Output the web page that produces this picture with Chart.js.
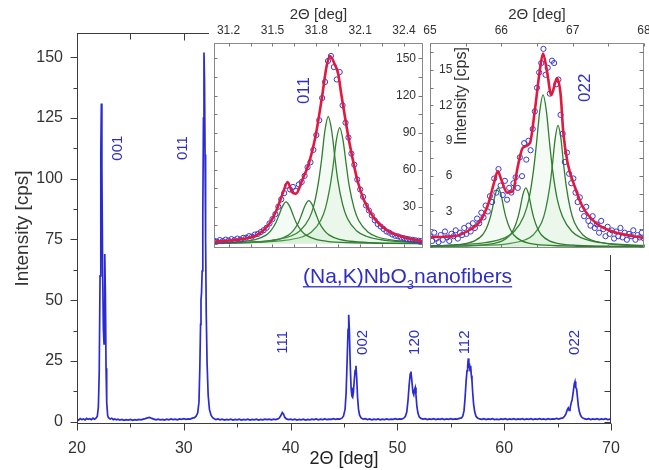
<!DOCTYPE html>
<html><head><meta charset="utf-8">
<script src="https://cdn.jsdelivr.net/npm/chart.js@4.4.1/dist/chart.umd.min.js"></script>
<style>
html,body{margin:0;padding:0;background:#fff;}
#wrap{position:relative;width:649px;height:470px;overflow:hidden;background:#fff;}
canvas{position:absolute;}
#main{left:0;top:0;}
#in1{left:209px;top:0;}
#in2{left:416px;top:0;}
</style></head><body>
<div id="wrap">
<canvas id="main" width="649" height="470"></canvas>
<canvas id="in1" width="219" height="255"></canvas>
<canvas id="in2" width="233" height="255"></canvas>
</div>
<script>
// ---------------- DATA ----------------
// Main XRD scan: [2theta (deg), intensity (cps)]
const mainScan = [
[20.0,1.0],[20.15,0.6],[20.3,1.2],[20.45,0.8],[20.6,1.1],[20.75,0.7],[20.9,1.3],[21.05,0.9],[21.2,1.2],[21.35,0.8],[21.5,1.4],[21.65,1.0],[21.8,1.5],[21.9,2.2],
[22.0,6],[22.08,20],[22.16,60],[22.23,110],[22.28,131],[22.33,105],[22.4,62],[22.47,38],[22.53,32],[22.58,52],[22.62,69],[22.66,52],[22.72,22],[22.78,8],[22.87,2.5],[22.95,1.6],
[23.1,1.1],[23.25,1.4],[23.4,0.8],[23.55,1.1],[23.7,0.7],[23.85,1.0],[24.0,0.6],[24.2,0.9],[24.4,0.5],[24.6,0.8],[24.8,0.6],[25.0,0.9],[25.2,0.5],[25.4,0.8],[25.6,0.6],[25.8,0.9],
[26.0,0.7],[26.2,1.0],[26.4,1.2],[26.6,1.5],[26.8,1.7],[27.0,1.3],[27.2,1.0],[27.4,0.7],[27.6,1.0],[27.8,0.7],[28.0,0.9],[28.2,0.6],[28.4,1.0],[28.6,0.7],[28.8,1.1],[29.0,0.8],
[29.2,1.0],[29.4,0.7],[29.6,1.1],[29.8,0.9],[30.0,1.2],[30.2,0.9],[30.4,1.1],[30.6,1.0],[30.8,1.4],[31.0,1.6],[31.15,2.2],[31.3,3.5],[31.42,8],[31.5,22],[31.57,40],[31.61,50],
[31.66,53],[31.72,62],[31.78,85],[31.84,125],[31.89,152],[31.94,140],[31.99,110],[32.04,75],[32.1,45],[32.18,24],[32.28,11],[32.4,5],[32.55,2.6],[32.7,1.6],[32.85,1.2],[33.0,0.8],
[33.2,1.1],[33.4,0.7],[33.6,1.0],[33.8,0.6],[34.0,0.9],[34.2,0.7],[34.4,1.0],[34.6,0.6],[34.8,0.9],[35.0,0.7],[35.2,1.0],[35.4,0.6],[35.6,0.9],[35.8,0.7],[36.0,1.0],[36.2,0.6],
[36.4,0.9],[36.6,0.7],[36.8,1.0],[37.0,0.6],[37.2,0.9],[37.4,0.7],[37.6,1.0],[37.8,0.8],[38.0,1.0],[38.2,0.7],[38.4,1.0],[38.6,0.8],[38.8,1.1],[38.95,1.5],[39.1,2.6],[39.22,3.7],
[39.32,3.2],[39.45,1.8],[39.6,1.1],[39.8,0.8],[40.0,1.0],[40.2,0.7],[40.4,1.0],[40.6,0.6],[40.8,0.9],[41.0,0.7],[41.2,1.0],[41.4,0.6],[41.6,0.9],[41.8,0.7],[42.0,1.0],[42.2,0.8],
[42.4,1.1],[42.6,0.7],[42.8,1.0],[43.0,0.8],[43.2,1.1],[43.4,0.8],[43.6,1.0],[43.8,0.9],[44.0,1.2],[44.2,0.9],[44.4,1.1],[44.6,1.0],[44.8,1.4],[44.95,2.2],[45.1,5],[45.2,12],
[45.3,26],[45.38,38],[45.44,44],[45.5,38],[45.58,24],[45.66,14],[45.74,10.5],[45.81,10],[45.88,12],[45.96,17],[46.04,21],[46.12,23],[46.19,18],[46.27,10],[46.36,5],[46.46,2.6],
[46.6,1.5],[46.8,1.0],[47.0,1.2],[47.2,0.8],[47.4,1.1],[47.6,0.7],[47.8,1.0],[48.0,0.8],[48.2,1.1],[48.4,0.7],[48.6,1.0],[48.8,0.8],[49.0,1.1],[49.2,0.8],[49.4,1.0],[49.6,0.9],
[49.8,1.2],[50.0,0.9],[50.2,1.1],[50.4,1.0],[50.6,1.4],[50.75,2.2],[50.88,4],[51.0,9],[51.1,15],[51.2,19.5],[51.27,20.6],[51.35,17],[51.45,12],[51.53,11],[51.6,13],[51.67,14],
[51.74,11],[51.82,6.5],[51.92,3.5],[52.05,1.9],[52.2,1.3],[52.4,1.0],[52.6,1.2],[52.8,0.8],[53.0,1.1],[53.2,0.9],[53.4,1.2],[53.6,0.8],[53.8,1.1],[54.0,0.9],[54.2,1.2],[54.4,0.8],
[54.6,1.1],[54.8,0.9],[55.0,1.2],[55.2,0.9],[55.4,1.1],[55.6,1.0],[55.8,1.3],[56.0,1.5],[56.12,2.2],[56.24,4.5],[56.34,10],[56.44,17],[56.52,21],[56.58,23],[56.64,26],[56.69,22],
[56.74,24],[56.8,21],[56.86,23],[56.92,19],[56.98,17],[57.05,12],[57.14,7],[57.24,4],[57.36,2.2],[57.5,1.5],[57.7,1.1],[57.9,0.9],[58.1,1.2],[58.3,0.8],[58.5,1.1],[58.7,0.9],
[58.9,1.2],[59.1,0.8],[59.3,1.0],[59.5,0.8],[59.7,1.1],[59.9,0.9],[60.1,1.2],[60.3,0.8],[60.5,1.1],[60.7,0.9],[60.9,1.2],[61.1,0.8],[61.3,1.1],[61.5,0.9],[61.7,1.2],[61.9,0.8],
[62.1,1.1],[62.3,0.9],[62.5,1.2],[62.7,0.8],[62.9,1.1],[63.1,0.9],[63.3,1.2],[63.5,0.9],[63.7,1.1],[63.9,0.8],[64.1,1.2],[64.3,0.9],[64.5,1.1],[64.7,1.0],[64.9,1.3],[65.1,1.0],
[65.3,1.3],[65.5,1.5],[65.65,2.2],[65.78,3.2],[65.9,4.8],[66.0,5.6],[66.08,4.6],[66.16,5.2],[66.26,7.5],[66.36,9],[66.46,12],[66.56,15.5],[66.63,16.5],[66.7,14],[66.78,13.5],
[66.86,10],[66.94,6.5],[67.04,4],[67.16,2.5],[67.3,1.6],[67.5,1.2],[67.7,0.9],[67.9,1.2],[68.1,0.8],[68.3,1.1],[68.5,0.9],[68.7,1.2],[68.9,0.8],[69.1,1.1],[69.3,0.9],[69.5,1.2],
[69.7,0.8],[69.9,1.0],[70.0,0.9]
];
const mainXTicks = [20,30,40,50,60,70];
const mainXMinor = [25,35,45,55,65];
const mainYTicks = [0,25,50,75,100,125,150];
const mainYMinor = [12.5,37.5,62.5,87.5,112.5,137.5];
const peakNames = ['001','011','111','002','120','112','022'];
const peakLabelAt = [23.84,29.93,39.26,46.78,51.65,56.33,66.63];
const peakLabelLevel = [112.6,112.6,32.6,32.6,32.6,32.6,32.6];

// Inset 1: 011 reflection
const in1Obs = [
[31.10,2.5],[31.12,1.8],[31.14,3.0],[31.16,2.2],[31.18,3.4],[31.20,2.6],[31.22,3.8],[31.24,3.0],[31.26,4.2],[31.28,3.4],[31.30,4.8],[31.32,5.0],
[31.34,6.2],[31.36,5.8],[31.38,7.5],[31.40,8.0],[31.42,9.5],[31.44,11],[31.46,13],[31.48,16.5],[31.50,20],[31.52,24],[31.54,30],[31.56,36],
[31.58,41],[31.60,47],[31.62,44],[31.64,46],[31.66,43],[31.68,48],[31.70,50],[31.72,55],[31.74,62],[31.76,66],[31.78,76],[31.80,88],
[31.82,100],[31.84,118],[31.86,131],[31.88,148],[31.90,152],[31.92,143],[31.94,133],[31.96,139],[31.98,112],[32.00,98],[32.02,86],[32.04,73],
[32.06,64],[32.08,52],[32.10,44],[32.12,38],[32.14,31],[32.16,27],[32.18,23],[32.20,19],[32.22,16],[32.24,14],[32.26,12],[32.28,10],
[32.30,9],[32.32,7.5],[32.34,6.5],[32.36,6],[32.38,5],[32.40,4.5],[32.42,4],[32.44,3.5],[32.46,3.2],[32.48,2.8],[32.50,2.5],[32.52,2.2]
];
const in1Fit = [
[31.10,1.7],[31.18,2.4],[31.282,3.6],[31.393,7],[31.471,15],[31.527,27],[31.571,41],[31.604,50],[31.633,42],[31.66,40.5],[31.705,52],
[31.749,65],[31.793,86],[31.838,118],[31.871,144],[31.893,152],[31.927,145],[31.949,138],[31.971,121],[32.004,97],[32.038,75],[32.082,51],
[32.127,35],[32.193,21],[32.282,11],[32.393,5.5],[32.527,2]
];
const in1Comp1 = [[31.10,0.7],[31.173,0.9],[31.313,2.0],[31.383,3.4],[31.453,6.8],[31.488,10.5],[31.523,17],[31.543,22.8],[31.568,30.3],[31.593,34],[31.618,30.3],[31.643,22.8],[31.663,17],[31.698,10.5],[31.733,6.8],[31.803,3.4],[31.873,2.0],[32.013,0.9],[32.293,0.34],[32.53,0.2]];
const in1Comp2 = [[31.10,0.4],[31.329,0.95],[31.469,2.06],[31.539,3.5],[31.609,7],[31.644,10.9],[31.679,17.5],[31.699,23.5],[31.724,31.2],[31.749,35],[31.774,31.2],[31.799,23.5],[31.819,17.5],[31.854,10.9],[31.889,7],[31.959,3.5],[32.029,2.06],[32.169,0.95],[32.449,0.35],[32.53,0.3]];
const in1Comp3 = [[31.10,0.7],[31.232,1.0],[31.492,2.8],[31.622,6.1],[31.687,10.3],[31.752,20.6],[31.785,31.9],[31.817,51.5],[31.837,69],[31.859,91.7],[31.882,103],[31.905,91.7],[31.928,69],[31.947,51.5],[31.98,31.9],[32.012,20.6],[32.077,10.3],[32.142,6.1],[32.272,2.8],[32.53,1.0]];
const in1Comp4 = [[31.10,0.5],[31.31,0.94],[31.57,2.6],[31.70,5.5],[31.765,9.4],[31.83,18.8],[31.863,29.1],[31.895,47],[31.915,63],[31.937,83.7],[31.96,94],[31.983,83.7],[32.006,63],[32.025,47],[32.058,29.1],[32.09,18.8],[32.155,9.4],[32.22,5.5],[32.35,2.6],[32.53,1.2]];
const in1XTicks = [31.2,31.5,31.8,32.1,32.4];
const in1XMinor = [31.2,31.35,31.5,31.65,31.8,31.95,32.1,32.25,32.4];
const in1YTicks = [30,60,90,120,150];
const in1YMinor = [0,15,30,45,60,75,90,105,120,135,150];

// Inset 2: 022 reflection
const in2Obs = [
[65.00,0.9],[65.03,0.5],[65.06,1.2],[65.09,0.7],[65.12,0.4],[65.15,1.0],[65.18,0.6],[65.21,1.3],[65.24,0.8],[65.27,0.5],[65.30,1.1],[65.33,0.9],
[65.36,1.4],[65.39,0.7],[65.42,1.2],[65.45,1.0],[65.48,1.6],[65.51,1.1],[65.54,1.8],[65.57,1.3],[65.60,2.0],[65.63,1.6],[65.66,2.4],[65.69,2.0],
[65.72,2.9],[65.75,2.5],[65.78,3.5],[65.81,3.0],[65.84,4.3],[65.87,3.8],[65.90,5.8],[65.93,4.6],[65.96,6.6],[65.99,5.2],[66.02,4.4],[66.05,5.6],
[66.08,4.0],[66.11,5.0],[66.14,4.6],[66.17,5.4],[66.20,5.9],[66.23,5.0],[66.26,7.6],[66.29,6.0],[66.32,8.8],[66.35,7.4],[66.38,9.0],[66.41,8.2],
[66.44,10.0],[66.47,11.5],[66.50,13.5],[66.53,14.8],[66.56,15.6],[66.59,16.8],[66.62,14.6],[66.65,15.2],[66.68,13.0],[66.71,15.8],[66.74,15.6],[66.77,13.8],
[66.80,14.2],[66.83,11.2],[66.86,9.6],[66.89,7.2],[66.92,8.0],[66.95,6.2],[66.98,5.4],[67.01,5.8],[67.04,4.6],[67.07,3.8],[67.10,4.2],[67.13,3.2],
[67.16,2.6],[67.19,3.4],[67.22,2.2],[67.25,1.8],[67.28,2.6],[67.31,1.6],[67.34,1.9],[67.37,1.2],[67.40,2.2],[67.43,1.5],[67.46,0.9],[67.49,1.7],
[67.52,1.1],[67.55,1.4],[67.58,0.7],[67.61,1.3],[67.64,0.9],[67.67,1.6],[67.70,0.8],[67.73,1.2],[67.76,0.6],[67.79,1.1],[67.82,0.9],[67.85,1.4],
[67.88,0.6],[67.91,1.0],[67.94,0.8],[67.97,1.2],[68.00,0.7]
];
const in2Fit = [
[65.0,0.83],[65.33,0.9],[65.56,1.45],[65.7,2.15],[65.82,3.7],[65.9,5.5],[65.95,6.4],[66.0,5.7],[66.08,4.6],[66.16,4.7],[66.23,6.8],[66.3,8.4],
[66.4,8.8],[66.47,11.6],[66.54,15.0],[66.585,16.4],[66.64,14.9],[66.7,12.9],[66.78,14.3],[66.83,13.0],[66.87,9.6],[66.93,7.1],[67.03,5.1],
[67.14,3.4],[67.33,2.0],[67.56,1.3],[68.0,0.75]
];
const in2CompA = [[65.0,0.06],[65.295,0.14],[65.515,0.3],[65.625,0.5],[65.735,1.0],[65.79,1.55],[65.845,2.5],[65.878,3.35],[65.915,4.45],[65.955,5],[65.995,4.45],[66.032,3.35],[66.065,2.5],[66.12,1.55],[66.175,1.0],[66.285,0.5],[66.395,0.3],[66.615,0.14],[67.055,0.05],[68.0,0.02]];
const in2CompB = [[65.0,0.03],[65.683,0.14],[65.903,0.3],[66.013,0.5],[66.123,1.0],[66.178,1.55],[66.233,2.5],[66.266,3.35],[66.303,4.45],[66.343,5],[66.383,4.45],[66.42,3.35],[66.453,2.5],[66.508,1.55],[66.563,1.0],[66.673,0.5],[66.783,0.3],[67.003,0.14],[67.443,0.05],[68.0,0.02]];
const in2CompC = [[65.0,0.09],[65.235,0.13],[65.775,0.35],[66.045,0.76],[66.18,1.3],[66.315,2.6],[66.385,4.0],[66.45,6.45],[66.49,8.6],[66.538,11.5],[66.585,12.9],[66.632,11.5],[66.68,8.6],[66.72,6.45],[66.785,4.0],[66.855,2.6],[66.99,1.3],[67.125,0.76],[67.395,0.35],[67.935,0.13],[68.0,0.12]];
const in2CompD = [[65.0,0.05],[65.645,0.1],[66.105,0.28],[66.335,0.6],[66.45,1.03],[66.565,2.06],[66.622,3.2],[66.68,5.15],[66.715,6.9],[66.755,9.2],[66.795,10.3],[66.835,9.2],[66.875,6.9],[66.91,5.15],[66.968,3.2],[67.025,2.06],[67.14,1.03],[67.255,0.6],[67.485,0.28],[67.945,0.1],[68.0,0.1]];
const in2XTicks = [65,66,67,68];
const in2XMinor = [65,65.5,66,66.5,67,67.5,68];
const in2YTicks = [3,6,9,12,15];
const in2YMinor = [0,1.5,3,4.5,6,7.5,9,10.5,12,13.5,15,16.5];

// ---------------- STYLE ----------------
const FONT = "'Liberation Sans', Arial, Helvetica, sans-serif";
const LINE_BLUE = '#2b2bd2';
const LABEL_BLUE = '#2e2ec4';
const FIT_RED = '#e2183f';
const COMP_GREEN = '#2f7d2f';
const OBS_BLUE = '#3a3ad0';
const pts = arr => arr.map(p => ({x: p[0], y: p[1]}));

function tickMarks(ctx, scale, values, edge, len, a) {
  values.forEach(v => {
    const p = Math.round(scale.getPixelForValue(v)) + 0.5;
    ctx.beginPath();
    if (edge === 'bottom') { ctx.moveTo(p, a.bottom); ctx.lineTo(p, a.bottom + len); }
    else if (edge === 'top') { ctx.moveTo(p, a.top); ctx.lineTo(p, a.top + len); }
    else if (edge === 'left') { ctx.moveTo(a.left, p); ctx.lineTo(a.left + len, p); }
    else { ctx.moveTo(a.right, p); ctx.lineTo(a.right + len, p); }
    ctx.stroke();
  });
}
function crispArea(ca) {
  return {left: Math.round(ca.left) + 0.5, right: Math.round(ca.right) - 0.5,
          top: Math.round(ca.top) + 0.5, bottom: Math.round(ca.bottom) - 0.5};
}
function rotText(ctx, text, x, y) {
  ctx.save(); ctx.translate(x, y); ctx.rotate(-Math.PI / 2);
  ctx.textAlign = 'center'; ctx.textBaseline = 'middle';
  ctx.fillText(text, 0, 0); ctx.restore();
}
const fixTicks = arr => (s => { s.ticks = arr.map(v => ({value: v})); });
const common = {responsive: false, animation: false, devicePixelRatio: 1, events: [],
  plugins: {legend: {display: false}, tooltip: {enabled: false}, title: {display: false}}};

// ---------------- MAIN CHART ----------------
const mainDecor = {
  id: 'mainDecor',
  afterDraw(chart) {
    const {ctx, scales: {x, y}} = chart;
    const a = crispArea(chart.chartArea);
    ctx.save();
    ctx.strokeStyle = '#3c3c3c'; ctx.lineWidth = 1;
    ctx.strokeRect(a.left, a.top, a.right - a.left, a.bottom - a.top);
    tickMarks(ctx, x, mainXTicks, 'bottom', 7, a);
    tickMarks(ctx, x, mainXMinor, 'bottom', 4, a);
    tickMarks(ctx, x, mainXTicks, 'top', 7, a);
    tickMarks(ctx, x, mainXMinor, 'top', 6, a);
    tickMarks(ctx, y, mainYTicks, 'left', -7, a);
    tickMarks(ctx, y, mainYMinor, 'left', -4, a);
    tickMarks(ctx, y, mainYTicks, 'right', -6, a);
    tickMarks(ctx, y, mainYMinor, 'right', -6, a);
    ctx.fillStyle = LABEL_BLUE;
    ctx.font = '15px ' + FONT;
    peakNames.forEach((n, i) => rotText(ctx, n, x.getPixelForValue(peakLabelAt[i]), y.getPixelForValue(peakLabelLevel[i])));
    // compound name
    const cx = x.getPixelForValue(50.95), by = y.getPixelForValue(57);
    const p1 = '(Na,K)NbO', p2 = '3', p3 = 'nanofibers';
    ctx.textAlign = 'left'; ctx.textBaseline = 'alphabetic';
    ctx.font = '21px ' + FONT; const w1 = ctx.measureText(p1).width, w3 = ctx.measureText(p3).width;
    ctx.font = '13px ' + FONT; const w2 = ctx.measureText(p2).width;
    const total = w1 + w2 + w3, sx = cx - total / 2;
    ctx.font = '21px ' + FONT; ctx.fillText(p1, sx, by); ctx.fillText(p3, sx + w1 + w2, by);
    ctx.font = '13px ' + FONT; ctx.fillText(p2, sx + w1, by + 6);
    ctx.fillRect(sx, by + 3, total, 1.3);
    ctx.restore();
  }
};

new Chart(document.getElementById('main'), {
  type: 'line',
  data: {datasets: [{data: pts(mainScan), borderColor: LINE_BLUE, borderWidth: 1.7, pointRadius: 0, tension: 0, fill: false}]},
  options: Object.assign({}, common, {
    layout: {padding: {left: 0, right: 38, top: 33, bottom: 0}},
    scales: {
      x: {type: 'linear', position: 'bottom', min: 20, max: 70,
        afterBuildTicks: fixTicks(mainXTicks),
        afterFit: s => { s.height = 46; s.paddingLeft = 0; s.paddingRight = 0; },
        grid: {display: false, drawTicks: false}, border: {display: false},
        ticks: {font: {family: FONT, size: 16}, color: '#333', padding: 15, maxRotation: 0, autoSkip: false, callback: v => String(v)},
        title: {display: true, text: '2Θ [deg]', font: {family: FONT, size: 18}, color: '#222', padding: {top: 0, bottom: 0}}},
      y: {type: 'linear', position: 'left', min: -1, max: 160,
        afterBuildTicks: fixTicks(mainYTicks),
        afterFit: s => { s.width = 77; s.paddingTop = 0; s.paddingBottom = 0; },
        grid: {display: false, drawTicks: false}, border: {display: false},
        ticks: {font: {family: FONT, size: 16}, color: '#333', padding: 14, autoSkip: false, callback: v => String(v)},
        title: {display: true, text: 'Intensity [cps]', font: {family: FONT, size: 19}, color: '#333', padding: {top: 11, bottom: 0}}}
    }
  }),
  plugins: [mainDecor]
});

// ---------------- INSETS ----------------
function insetDecor(cfg) {
  return {
    id: 'insetDecor',
    beforeDraw(chart) {
      const c = chart.ctx; c.save(); c.fillStyle = '#fff';
      c.fillRect(cfg.whiteFrom, 0, chart.width - cfg.whiteFrom, chart.height); c.restore();
    },
    afterDraw(chart) {
      const {ctx, scales: {x, y}} = chart;
      const a = crispArea(chart.chartArea);
      ctx.save();
      ctx.strokeStyle = '#8a8a8a'; ctx.lineWidth = 1;
      ctx.strokeRect(a.left, a.top, a.right - a.left, a.bottom - a.top);
      ctx.strokeStyle = '#777';
      tickMarks(ctx, x, cfg.xMinor, 'top', 3, a);
      tickMarks(ctx, x, cfg.xMinor, 'bottom', -3, a);
      tickMarks(ctx, y, cfg.yMinor, 'left', 3, a);
      tickMarks(ctx, y, cfg.yMinor, 'right', -4, a);
      cfg.notes.forEach(n => {
        ctx.fillStyle = n.color; ctx.font = n.size + 'px ' + FONT;
        rotText(ctx, n.text, x.getPixelForValue(n.x), y.getPixelForValue(n.y));
      });
      ctx.restore();
    }
  };
}
function compSet(arr) {
  return {data: pts(arr), borderColor: COMP_GREEN, borderWidth: 1.3, pointRadius: 0,
    cubicInterpolationMode: 'monotone', fill: 'origin', backgroundColor: 'rgba(150,215,150,0.1)', clip: 0};
}
function insetDatasets(obs, fit, comps) {
  return [
    {data: pts(fit), borderColor: FIT_RED, borderWidth: 2.6, pointRadius: 0, cubicInterpolationMode: 'monotone', fill: false, clip: 0},
    {data: pts(obs), showLine: false, pointRadius: 2.6, pointBorderWidth: 1, pointBorderColor: OBS_BLUE, pointBackgroundColor: 'rgba(0,0,0,0)', fill: false, clip: 0}
  ].concat(comps.map(compSet));
}
const insetTickFont = {family: FONT, size: 12};
const insetTitle = {display: true, text: '2Θ [deg]', font: {family: FONT, size: 15}, color: '#333', padding: {top: 6, bottom: 0}};

new Chart(document.getElementById('in1'), {
  type: 'line',
  data: {datasets: insetDatasets(in1Obs, in1Fit, [in1Comp1, in1Comp2, in1Comp3, in1Comp4])},
  options: Object.assign({}, common, {
    layout: {padding: {left: 2, right: 0, top: 0, bottom: 7}},
    scales: {
      x: {type: 'linear', position: 'top', min: 31.1, max: 32.53,
        afterBuildTicks: fixTicks(in1XTicks),
        afterFit: s => { s.height = 43; s.paddingLeft = 0; s.paddingRight = 0; },
        grid: {display: false, drawTicks: false}, border: {display: false},
        ticks: {font: insetTickFont, color: '#333', padding: 5, maxRotation: 0, autoSkip: false, callback: v => String(v)},
        title: insetTitle},
      y: {type: 'linear', position: 'right', min: -3.4, max: 162.5,
        afterBuildTicks: fixTicks(in1YTicks),
        afterFit: s => { s.width = 3; s.paddingTop = 0; s.paddingBottom = 0; },
        grid: {display: false, drawTicks: false}, border: {display: false},
        ticks: {font: insetTickFont, color: '#333', mirror: true, padding: -7, autoSkip: false, callback: v => String(v)}}
    }
  }),
  plugins: [insetDecor({whiteFrom: 0, xMinor: in1XMinor, yMinor: in1YMinor,
    notes: [{text: '011', x: 31.715, y: 124, size: 17, color: LABEL_BLUE}]})]
});

new Chart(document.getElementById('in2'), {
  type: 'line',
  data: {datasets: insetDatasets(in2Obs, in2Fit, [in2CompA, in2CompB, in2CompC, in2CompD])},
  options: Object.assign({}, common, {
    layout: {padding: {left: 14, right: 5, top: 0, bottom: 7}},
    scales: {
      x: {type: 'linear', position: 'top', min: 65, max: 68,
        afterBuildTicks: fixTicks(in2XTicks),
        afterFit: s => { s.height = 43; s.paddingLeft = 0; s.paddingRight = 0; },
        grid: {display: false, drawTicks: false}, border: {display: false},
        ticks: {font: insetTickFont, color: '#333', padding: 5, maxRotation: 0, autoSkip: false, callback: v => String(v)},
        title: insetTitle},
      y: {type: 'linear', position: 'left', min: -0.1, max: 17.3,
        afterBuildTicks: fixTicks(in2YTicks),
        afterFit: s => { s.width = 0; s.paddingTop = 0; s.paddingBottom = 0; },
        grid: {display: false, drawTicks: false}, border: {display: false},
        ticks: {font: insetTickFont, color: '#333', mirror: true, crossAlign: 'far', padding: 9, autoSkip: false, callback: v => String(v)}}
    }
  }),
  plugins: [insetDecor({whiteFrom: 10, xMinor: in2XMinor, yMinor: in2YMinor,
    notes: [{text: '022', x: 67.18, y: 13.5, size: 17, color: LABEL_BLUE},
            {text: 'Intensity [cps]', x: 65.44, y: 12.8, size: 16, color: '#333'}]})]
});
</script>
</body></html>
